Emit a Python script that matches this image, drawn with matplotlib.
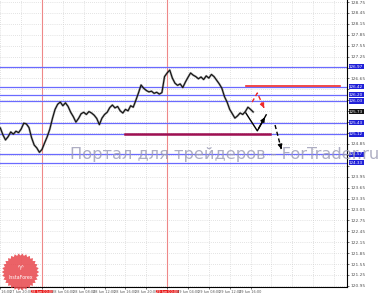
import numpy as np
import matplotlib
matplotlib.use("Agg")
import matplotlib.pyplot as plt
from matplotlib.patches import Polygon

# price, half-hour closes starting 8h before the day separator
close = [125.29, 125.10, 124.96, 125.05, 125.18, 125.12, 125.20, 125.16,
         125.26, 125.42, 125.40, 125.30, 125.02, 124.82, 124.74, 124.62,
         124.70, 124.88, 125.05, 125.26, 125.55, 125.80, 125.94, 126.00,
         125.90, 125.98, 125.88, 125.72, 125.60, 125.45, 125.55, 125.68,
         125.72, 125.66, 125.74, 125.70, 125.64, 125.55, 125.38, 125.56,
         125.66, 125.72, 125.85, 125.92, 125.84, 125.88, 125.76, 125.70,
         125.80, 125.76, 125.90, 125.86, 126.05, 126.25, 126.47, 126.38,
         126.32, 126.28, 126.30, 126.24, 126.27, 126.22, 126.26, 126.70,
         126.80, 126.88, 126.66, 126.52, 126.46, 126.50, 126.40, 126.55,
         126.68, 126.80, 126.74, 126.70, 126.64, 126.69, 126.62, 126.72,
         126.66, 126.76, 126.70, 126.60, 126.50, 126.38, 126.15, 126.00,
         125.80, 125.68, 125.56, 125.62, 125.70, 125.66, 125.74, 125.86,
         125.80, 125.73]
hours = -8 + 0.5 * np.arange(len(close))

levels = [126.97, 126.42, 126.20, 126.03, 125.43, 125.12, 124.57, 124.33]
last_price = 125.73
red_level = 126.44
support = 125.12

y_ticks = [round(128.75 - 0.30 * i, 2) for i in range(27)]
x_ticks = [-8, -4, 0, 4, 8, 12, 16, 20, 24, 28, 32, 36, 40]
x_labels = ["27 Jun 16:00", "27 Jun 20:00", "28 Jun 00:00", "28 Jun 04:00",
            "28 Jun 08:00", "28 Jun 12:00", "28 Jun 16:00", "28 Jun 20:00",
            "29 Jun 00:00", "29 Jun 04:00", "29 Jun 08:00", "29 Jun 12:00",
            "29 Jun 16:00"]
day_starts = [0, 24]

# scenario arrows
main_path_x = [39.1, 41.3, 43.0]
main_path_y = [125.70, 125.21, 125.65]
dash_path_x = [44.7, 45.9]
dash_path_y = [125.37, 124.71]
alt_path_x = [40.3, 41.3, 42.6]
alt_path_y = [126.00, 126.25, 125.84]

fig = plt.figure(figsize=(3.89, 2.93), dpi=100)
ax = fig.add_axes([0.0, 0.0205, 0.892, 0.9795])
ax.set_xlim(-8.06, 58.5)
ax.set_ylim(120.92, 128.805)

# grid
for t in y_ticks:
    ax.axhline(t, color="#c8c8c8", lw=0.5, ls=(0, (1, 2)), zorder=0)
for t in x_ticks + [44, 48, 52, 56]:
    ax.axvline(t, color="#c8c8c8", lw=0.5, ls=(0, (1, 2)), zorder=0)
for d in day_starts:
    ax.axvline(d, color="#ee8888", lw=0.8, zorder=1)

for lv in levels:
    ax.axhline(lv, color="#6a6aff", lw=0.9, zorder=2)
ax.plot([15.9, 43.8], [support, support], color="#a01050", lw=1.8, zorder=3)
ax.plot([39.2, 57.2], [red_level, red_level], color="#ee2a2a", lw=1.2, zorder=3)

ax.plot(hours, close, color="#555555", lw=1.6, alpha=0.5, zorder=4)
ax.plot(hours, close, color="#111111", lw=0.8, zorder=4)

ax.plot(main_path_x, main_path_y, color="#000000", lw=1.0, zorder=5)
ax.annotate("", xy=(main_path_x[-1], main_path_y[-1]), xytext=(main_path_x[-2], main_path_y[-2]),
            arrowprops=dict(arrowstyle="-|>", color="#000000", lw=1.0, mutation_scale=6))
ax.plot(dash_path_x, dash_path_y, color="#000000", lw=1.0, ls=(0, (3, 2)), zorder=5)
ax.annotate("", xy=(dash_path_x[-1], dash_path_y[-1]), xytext=(45.7, 124.82),
            arrowprops=dict(arrowstyle="-|>", color="#000000", lw=1.0, mutation_scale=6))
ax.plot(alt_path_x, alt_path_y, color="#ee2a2a", lw=1.0, ls=(0, (3, 2)), zorder=5)
ax.annotate("", xy=(alt_path_x[-1], alt_path_y[-1]), xytext=(42.3, 125.93),
            arrowprops=dict(arrowstyle="-|>", color="#ee2a2a", lw=1.0, mutation_scale=6))

# axes frame and ticks
for side in ["top", "left"]:
    ax.spines[side].set_visible(False)
ax.spines["right"].set_linewidth(0.8)
ax.spines["bottom"].set_linewidth(0.8)
ax.yaxis.tick_right()
ax.set_yticks(y_ticks)
boxed = levels + [last_price]
ax.set_yticklabels(["" if min(abs(t - b) for b in boxed) < 0.2 else f"{t:.2f}" for t in y_ticks],
                   fontsize=3.2, color="#555555")
ax.tick_params(axis="y", length=1.5, pad=1, width=0.4)
ax.set_xticks(x_ticks)
ax.set_xticklabels(x_labels, fontsize=2.5, color="#555555")
ax.tick_params(axis="x", length=1.5, pad=0.8, width=0.4)
for lbl, t in zip(ax.get_xticklabels(), x_ticks):
    if t in day_starts:
        lbl.set_color("white")
        lbl.set_bbox(dict(facecolor="#e82020", edgecolor="none", pad=0.2))

# level boxes on the price scale
for lv in levels:
    ax.text(1.006, lv, f"{lv:.2f}", transform=ax.get_yaxis_transform(), fontsize=3.0,
            color="white", va="center", ha="left",
            bbox=dict(facecolor="#2020d8", edgecolor="none", pad=0.4), zorder=6)
ax.text(1.006, last_price, f"{last_price:.2f}", transform=ax.get_yaxis_transform(), fontsize=3.0,
        color="white", va="center", ha="left",
        bbox=dict(facecolor="#111111", edgecolor="none", pad=0.4), zorder=6)

# watermark
fig.text(70 / 389, 1 - 155 / 293, "Портал для трейдеров - ForTrader.ru",
         fontsize=11.7, color="#9a9ab4", alpha=0.8, va="center", ha="left")

# InstaForex badge
lax = fig.add_axes([0.0, 1 - 291 / 293, 41 / 389, 38 / 293])
lax.set_xlim(-1.02, 1.02)
lax.set_ylim(-1.02, 1.02)
lax.set_aspect("equal")
lax.axis("off")
ang = np.linspace(0, 2 * np.pi, 61)[:-1]
rad = np.where(np.arange(60) % 2 == 0, 1.0, 0.88)
lax.add_patch(Polygon(np.c_[rad * np.cos(ang), rad * np.sin(ang)], closed=True,
                      facecolor="#e8474c", edgecolor="none", alpha=0.85))
lax.text(0, 0.2, "♈", fontsize=4.5, color="white", ha="center", va="center")
lax.text(0, -0.32, "InstaForex", fontsize=3.4, color="white", ha="center", va="center")

fig.savefig("out.png", dpi=100)
